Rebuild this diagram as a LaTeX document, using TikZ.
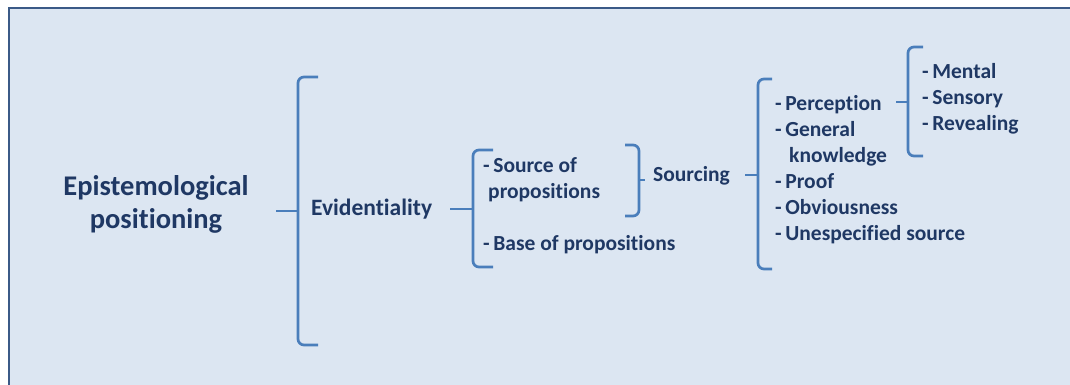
\documentclass[tikz,border=0pt]{standalone}
\usepackage{fontspec}
\setmainfont{Carlito}[Ligatures=NoCommon]
\usetikzlibrary{positioning}
\definecolor{bgblue}{HTML}{DCE6F2}
\definecolor{frameblue}{HTML}{3B5A87}
\definecolor{braceblue}{HTML}{4A7EBB}
\definecolor{navy}{HTML}{1F3864}
\tikzset{
  br/.style={draw=braceblue, line width=2.7pt, rounded corners=6pt},
  lbl/.style={text=navy, font=\bfseries\fontsize{21.5}{26}\selectfont, anchor=west, align=left, inner sep=0pt}
}
% spine x, end x, top y, bottom y, tip x, tip y
\newcommand{\bracket}[6]{\draw[br] (#2,#3) -- (#1,#3) -- (#1,#4) -- (#2,#4); \draw[br] (#5,#6) -- (#1,#6);}
\begin{document}
\begin{tikzpicture}[x=1pt, y=-1pt]
\useasboundingbox (0,0) rectangle (1070,385);
\fill[white] (0,0) rectangle (1070,385);
\draw[fill=bgblue, draw=frameblue, line width=2.8pt] (9,8) rectangle (1090,400);

\node[lbl, font=\bfseries\fontsize{28.5}{33}\selectfont, align=center, anchor=center] (epi) at (156,204) {Epistemological\\positioning};
\node[lbl, font=\bfseries\fontsize{23.5}{26}\selectfont] (evid) at (311,209) {Evidentiality};
\node[lbl] (srcprop) at (483,180) {-\,Source of\\\hspace*{5pt}propositions};
\node[lbl] (baseprop) at (483,245) {-\,Base of propositions};
\node[lbl] (sourcing) at (653,176) {Sourcing};
\node[lbl] (kinds) at (775,169.5) {-\,Perception\\-\,General\\\hspace*{14pt}knowledge\\-\,Proof\\-\,Obviousness\\-\,Unespecified source};
\node[lbl] (percept) at (922,99) {-\,Mental\\-\,Sensory\\-\,Revealing};

\bracket{298}{318}{77}{345}{276}{211}
\bracket{473}{493}{150}{267}{450}{209}
\draw[br] (625,145) -- (639,145) -- (639,216) -- (625,216);
\draw[br] (639,180) -- (645,180);
\bracket{758}{772}{79}{269}{745}{175}
\bracket{908}{923}{47}{156}{896}{102}
\end{tikzpicture}
\end{document}
